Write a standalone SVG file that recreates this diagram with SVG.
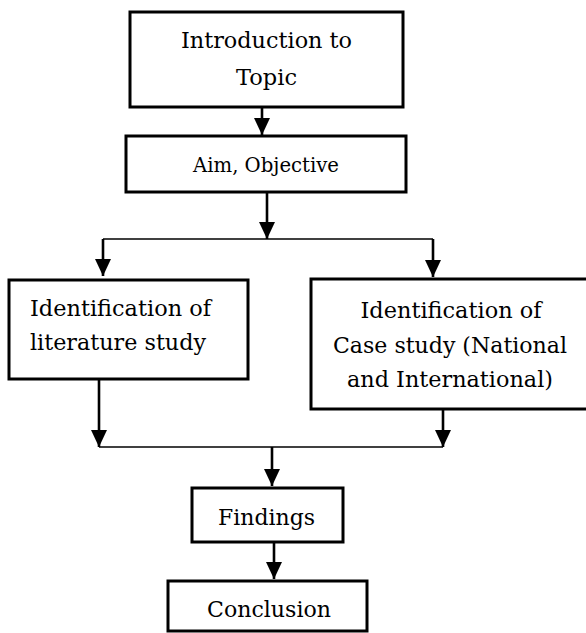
<svg xmlns="http://www.w3.org/2000/svg" width="586" height="633" viewBox="0 0 586 633">
<style>
.box{fill:#fff;stroke:#000;stroke-width:3}
.t{font-family:"DejaVu Serif","Liberation Serif",serif;font-size:22.5px;fill:#000}
.s{font-size:20px}
.c{stroke:#000;stroke-width:2.6;fill:none}
.h{stroke:#000;stroke-width:1.6;fill:none}
</style>
<defs>
<marker id="ah" markerUnits="userSpaceOnUse" markerWidth="17" markerHeight="16" refX="17" refY="8" orient="auto" viewBox="0 0 17 16">
<path d="M0,0 L17,8 L0,16 Z" fill="#000"/>
</marker>
</defs>
<rect width="586" height="633" fill="#fff"/>
<g id="connectors">
<line class="c" x1="262" y1="107" x2="262" y2="135" marker-end="url(#ah)"/>
<line class="c" x1="267" y1="192" x2="267" y2="239" marker-end="url(#ah)"/>
<line class="h" x1="103" y1="239" x2="433" y2="239"/>
<line class="c" x1="103" y1="239" x2="103" y2="276" marker-end="url(#ah)"/>
<line class="c" x1="433" y1="239" x2="433" y2="277" marker-end="url(#ah)"/>
<line class="c" x1="99" y1="379" x2="99" y2="447" marker-end="url(#ah)"/>
<line class="c" x1="443" y1="409" x2="443" y2="447" marker-end="url(#ah)"/>
<line class="h" x1="99" y1="447" x2="443" y2="447"/>
<line class="c" x1="272" y1="447" x2="272" y2="486" marker-end="url(#ah)"/>
<line class="c" x1="274" y1="542" x2="274" y2="579" marker-end="url(#ah)"/>
</g>
<g id="intro">
<rect class="box" x="130" y="12" width="273" height="95"/>
<text class="t" x="266.5" y="48" text-anchor="middle" textLength="171" lengthAdjust="spacingAndGlyphs">Introduction to</text>
<text class="t" x="266.5" y="85" text-anchor="middle">Topic</text>
</g>
<g id="aim">
<rect class="box" x="126" y="136" width="280" height="56"/>
<text class="t s" x="266" y="172" text-anchor="middle" textLength="146" lengthAdjust="spacingAndGlyphs">Aim, Objective</text>
</g>
<g id="literature">
<rect class="box" x="9" y="280" width="239" height="99"/>
<text class="t" x="30" y="316" textLength="181" lengthAdjust="spacingAndGlyphs">Identification of</text>
<text class="t" x="30" y="350" textLength="176" lengthAdjust="spacingAndGlyphs">literature study</text>
</g>
<g id="casestudy">
<rect class="box" x="311" y="279" width="280" height="130"/>
<text class="t" x="451" y="318" text-anchor="middle" textLength="181" lengthAdjust="spacingAndGlyphs">Identification of</text>
<text class="t" x="450" y="353" text-anchor="middle" textLength="234" lengthAdjust="spacingAndGlyphs">Case study (National</text>
<text class="t" x="450" y="387" text-anchor="middle" textLength="206" lengthAdjust="spacingAndGlyphs">and International)</text>
</g>
<g id="findings">
<rect class="box" x="192" y="488" width="151" height="54"/>
<text class="t" x="266.5" y="525" text-anchor="middle" textLength="97" lengthAdjust="spacingAndGlyphs">Findings</text>
</g>
<g id="conclusion">
<rect class="box" x="168" y="581" width="199" height="50"/>
<text class="t" x="269" y="617" text-anchor="middle" textLength="124" lengthAdjust="spacingAndGlyphs">Conclusion</text>
</g>
</svg>
